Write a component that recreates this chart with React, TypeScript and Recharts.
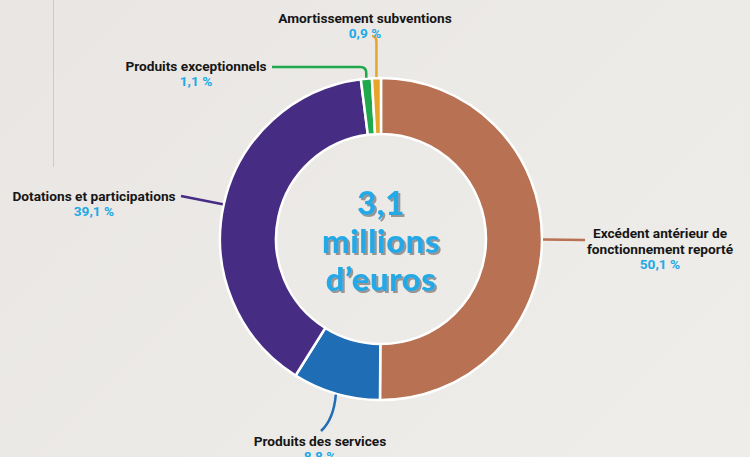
import { PieChart, Pie, Cell } from "recharts"

// Recettes de fonctionnement (share of 3,1 M€)
const categories = [
  "Excédent antérieur de fonctionnement reporté",
  "Produits des services",
  "Dotations et participations",
  "Produits exceptionnels",
  "Amortissement subventions",
]
const shares = [50.1, 8.8, 39.1, 1.1, 0.9]
const centerLines = ["3,1", "millions", "d’euros"]

const sliceColors = ["#b87152", "#1f6db5", "#462d83", "#1fa84c", "#e7a52a"]
const pctColor = "#22a9e6"

const data = categories.map((name, i) => ({ name, value: shares[i] }))

// label layout: how each category name is broken and where it sits
const labelLines: string[][] = [
  ["Excédent antérieur de", "fonctionnement reporté"],
  ["Produits des services"],
  ["Dotations et participations"],
  ["Produits exceptionnels"],
  ["Amortissement subventions"],
]
const labelPos = [
  { x: 660, y: 233, end: [585, 240] },
  { x: 320, y: 441, end: [321, 431] },
  { x: 94, y: 196, end: [181, 196] },
  { x: 196, y: 66, end: [272, 67] },
  { x: 365, y: 18, end: [372, 36] },
]

const RAD = Math.PI / 180
const fmt = (v: number) => `${v.toFixed(1).replace(".", ",")} %`

function leader(i: number, sx: number, sy: number, ex: number, ey: number) {
  if (i === 1) return `M${sx},${sy} Q${sx - 2},${ey - 12} ${ex},${ey}`
  if (i === 3) return `M${sx},${sy} L${sx},${ey + 6} Q${sx},${ey} ${sx - 6},${ey} L${ex},${ey}`
  if (i === 4) return `M${sx},${sy} L${sx},${ey + 6} Q${sx},${ey} ${ex},${ey}`
  return `M${sx},${sy} L${ex},${ey}`
}

function CenterText({ cx, cy }: { cx: number; cy: number }) {
  const style = { fontFamily: "Lato", fontWeight: 900, fontSize: 33, letterSpacing: 0.5 }
  return (
    <g filter="url(#centerShadow)">
      <defs>
        <filter id="centerShadow" x="-20%" y="-20%" width="140%" height="140%">
          <feDropShadow dx={2} dy={2} stdDeviation={0.6} floodColor="#8f8c89" floodOpacity={0.9} />
        </filter>
      </defs>
      {centerLines.map((t, k) => (
        <text key={k} x={cx} y={cy - 37 + k * 38} textAnchor="middle" dominantBaseline="central" fill={pctColor} style={style}>
          {t}
        </text>
      ))}
    </g>
  )
}

function SliceLabel(props: any) {
  const { cx, cy, midAngle, outerRadius, index, value } = props
  const sx = cx + (outerRadius + 1) * Math.cos(-midAngle * RAD)
  const sy = cy + (outerRadius + 1) * Math.sin(-midAngle * RAD)
  const pos = labelPos[index]
  const lines = labelLines[index]
  const font = { fontFamily: "Roboto", fontWeight: 700, fontSize: 13.7 }
  return (
    <g>
      {index === 0 && <CenterText cx={cx} cy={cy} />}
      <path
        d={leader(index, sx, sy, pos.end[0], pos.end[1])}
        fill="none"
        stroke={sliceColors[index]}
        strokeWidth={2.5}
      />
      {lines.map((t, k) => (
        <text
          key={k}
          x={pos.x}
          y={pos.y + k * 16}
          textAnchor="middle"
          dominantBaseline="central"
          style={font}
          fill="#161616"
        >
          {t}
        </text>
      ))}
      <text
        x={pos.x}
        y={pos.y + lines.length * 16 - 1}
        textAnchor="middle"
        dominantBaseline="central"
        style={font}
        fill={pctColor}
      >
        {fmt(value)}
      </text>
    </g>
  )
}

export default function App() {
  return (
    <div
      style={{
        position: "fixed",
        left: 0,
        top: 0,
        width: 750,
        height: 457,
        overflow: "hidden",
        background: "linear-gradient(135deg, #e9e6e3 0%, #eceae7 50%, #efedea 100%)",
      }}
    >
      <div style={{ position: "absolute", left: 53, top: 0, width: 1, height: 167, background: "#cfcbc7" }} />
      <PieChart width={750} height={457} margin={{ top: 0, right: 0, bottom: 0, left: 0 }} style={{ position: "absolute", left: 0, top: 0 }}>
        <Pie
          data={data}
          dataKey="value"
          nameKey="name"
          cx={381}
          cy={239}
          innerRadius={105}
          outerRadius={161}
          startAngle={90}
          endAngle={-270}
          stroke="#ffffff"
          strokeWidth={2.5}
          label={SliceLabel}
          labelLine={false}
          isAnimationActive={false}
        >
          {data.map((d, i) => (
            <Cell key={d.name} fill={sliceColors[i]} />
          ))}
        </Pie>
      </PieChart>
    </div>
  )
}
